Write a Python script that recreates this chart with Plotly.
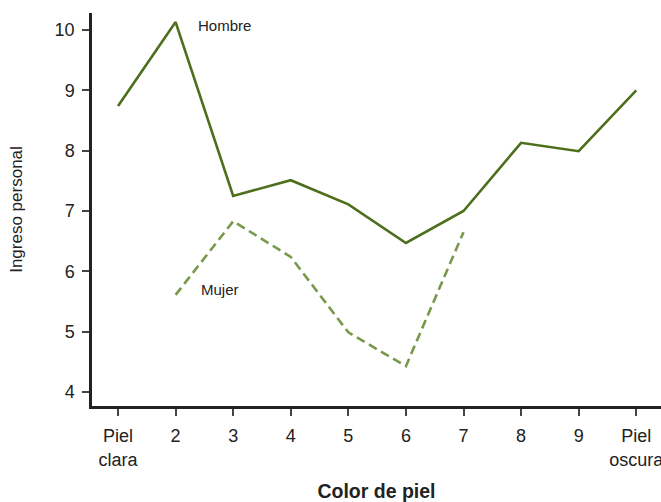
import plotly.graph_objects as go

x_vals = [1, 2, 3, 4, 5, 6, 7, 8, 9, 10]
tick_labels = ["Piel<br>clara", "2", "3", "4", "5", "6", "7", "8", "9", "Piel<br>oscura"]
hombre = [8.74, 10.13, 7.25, 7.51, 7.11, 6.47, 7.0, 8.13, 7.99, 9.0]
mujer_x = [2, 3, 4, 5, 6, 7]
mujer = [5.61, 6.83, 6.24, 4.99, 4.43, 6.65]

FONT = "Liberation Sans, Arial, sans-serif"

fig = go.Figure()
fig.add_trace(go.Scatter(x=x_vals, y=hombre, mode="lines", name="Hombre",
                         line=dict(color="#4d6f1c", width=2.6)))
fig.add_trace(go.Scatter(x=mujer_x, y=mujer, mode="lines", name="Mujer",
                         line=dict(color="#78984a", width=2.6, dash="9px,5px")))

fig.add_annotation(x=2.35, y=10.07, text="Hombre", showarrow=False, xanchor="left",
                   font=dict(size=15, color="#222", family=FONT))
fig.add_annotation(x=2.4, y=5.7, text="Mujer", showarrow=False, xanchor="left",
                   font=dict(size=15, color="#222", family=FONT))

fig.update_layout(
    width=661, height=502,
    margin=dict(l=92, r=0, t=13, b=96, autoexpand=False),
    paper_bgcolor="white", plot_bgcolor="white",
    showlegend=False,
    font=dict(family=FONT, color="#222"),
    xaxis=dict(range=[0.548, 10.43], tickmode="array", tickvals=x_vals, ticktext=tick_labels,
               automargin=False, ticklabeloverflow="allow", ticklabelstandoff=5,
               showgrid=False, zeroline=False, showline=True, linecolor="#222", linewidth=2.5,
               ticks="outside", ticklen=7, tickwidth=1.5, tickcolor="#444",
               tickfont=dict(size=18, family=FONT, color="#222"),
               title=dict(text="<b>Color de piel</b>", font=dict(size=19.5, family=FONT, color="#222"), standoff=16)),
    yaxis=dict(range=[3.77, 10.28], tickvals=[4, 5, 6, 7, 8, 9, 10],
               automargin=False, ticklabelstandoff=4,
               showgrid=False, zeroline=False, showline=True, linecolor="#222", linewidth=2.5,
               ticks="outside", ticklen=7, tickwidth=1.5, tickcolor="#444",
               tickfont=dict(size=18, family=FONT, color="#222"),
               title=dict(text="Ingreso personal", font=dict(size=17, family=FONT, color="#222"), standoff=28)),
)

fig.write_html("out.html", config={"displayModeBar": False},
               post_script="document.body.style.margin='0';")
